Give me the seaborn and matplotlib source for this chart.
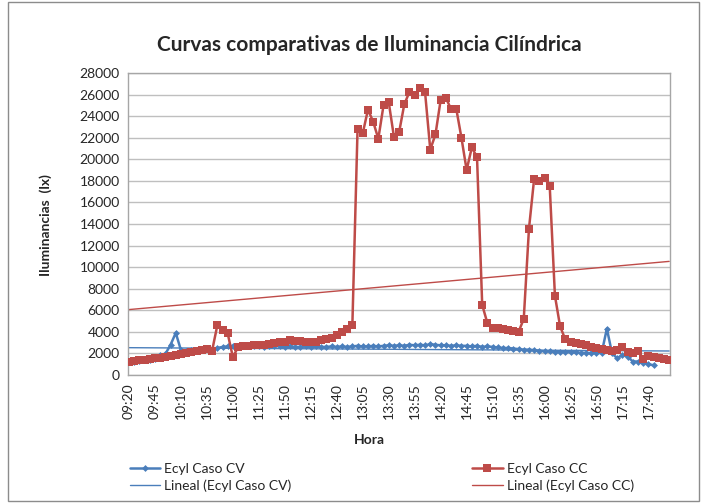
import numpy as np
import pandas as pd
import matplotlib
matplotlib.use("Agg")
import matplotlib.pyplot as plt
import matplotlib.patches as mpatches
import seaborn as sns

# valores (cada 5 minutos desde 09:20)
ecyl_cv = [1200, 1250, 1300, 1350, 1400, 1500, 1850, 1950, 2800, 3900,
           2300, 2250, 2300, 2300, 2350, 2400, 2450, 2500, 2600, 2650,
           2700, 2650, 2700, 2650, 2700, 2650, 2600, 2650, 2700, 2650,
           2600, 2650, 2600, 2600, 2650, 2600, 2650, 2600, 2600, 2650,
           2600, 2650, 2600, 2650, 2700, 2650, 2650, 2700, 2650, 2700,
           2750, 2700, 2750, 2700, 2800, 2750, 2800, 2750, 2850, 2800,
           2750, 2750, 2700, 2750, 2700, 2700, 2650, 2700, 2600, 2650,
           2600, 2550, 2500, 2500, 2450, 2400, 2350, 2350, 2300, 2250,
           2200, 2200, 2150, 2150, 2150, 2100, 2100, 2050, 2050, 2000,
           2050, 2050, 4300, 2000, 1550, 1850, 1700, 1250, 1250, 1100,
           1000, 900]

ecyl_cc = [1250, 1300, 1350, 1400, 1450, 1550, 1600, 1700, 1750, 1850,
           1900, 2000, 2100, 2200, 2350, 2450, 2250, 4600, 4150, 3850,
           1650, 2600, 2650, 2700, 2750, 2800, 2750, 2900, 2950, 3050,
           3100, 3250, 3150, 3150, 3100, 3050, 3050, 3200, 3300, 3450,
           3700, 4000, 4300, 4600, 22800, 22400, 24600, 23500, 21900, 25000,
           25300, 22100, 22500, 25100, 26250, 26000, 26600, 26200, 20900, 22300,
           25500, 25700, 24650, 24700, 22000, 19000, 21100, 20200, 6500, 4800,
           4350, 4350, 4300, 4200, 4050, 4000, 5200, 13550, 18200, 18000,
           18300, 17500, 7350, 4500, 3300, 3050, 2950, 2850, 2750, 2600,
           2500, 2400, 2300, 2250, 2300, 2550, 2150, 2050, 2250, 1450,
           1750, 1700, 1600, 1500, 1400]

tick_labels = ["09:20", "09:45", "10:10", "10:35", "11:00", "11:25", "11:50",
               "12:15", "12:40", "13:05", "13:30", "13:55", "14:20", "14:45",
               "15:10", "15:35", "16:00", "16:25", "16:50", "17:15", "17:40"]

azul = "#4A7EBB"
rojo = "#BE4B48"

sns.set_style("white")
plt.rcParams["font.family"] = ["Lato", "DejaVu Sans"]

n = len(ecyl_cc)
df_cc = pd.DataFrame({"idx": np.arange(n), "lux": ecyl_cc})
df_cv = pd.DataFrame({"idx": np.arange(len(ecyl_cv)), "lux": ecyl_cv})

fig = plt.figure(figsize=(7.07, 5.03), dpi=100)
ax = fig.add_axes([0.181, 0.2545, 0.767, 0.6004])

# lineas de tendencia (regresion lineal)
xs = np.arange(n)
p_cv = np.polyfit(df_cv["idx"], df_cv["lux"], 1)
p_cc = np.polyfit(df_cc["idx"], df_cc["lux"], 1)
ax.plot(xs, np.polyval(p_cv, xs), color=azul, lw=1.0, zorder=2,
        label="Lineal (Ecyl Caso CV)")
ax.plot(xs, np.polyval(p_cc, xs), color=rojo, lw=1.0, zorder=2,
        label="Lineal (Ecyl Caso CC)")

sns.lineplot(data=df_cv, x="idx", y="lux", ax=ax, color=azul, lw=1.8,
             marker="D", markersize=3.5, markeredgewidth=0, zorder=3,
             label="Ecyl Caso CV")
sns.lineplot(data=df_cc, x="idx", y="lux", ax=ax, color=rojo, lw=1.8,
             marker="s", markersize=5.5, markeredgewidth=0, zorder=4,
             label="Ecyl Caso CC")

ax.set_xlim(-0.2, n - 0.8)
ax.set_ylim(0, 28000)
ax.set_yticks(np.arange(0, 28001, 2000))
ax.set_xticks(np.arange(0, 5 * len(tick_labels), 5))
ax.set_xticklabels(tick_labels, rotation=90, fontsize=10)
ax.tick_params(axis="y", labelsize=10, length=0, pad=6)
ax.tick_params(axis="x", length=0, pad=6)
ax.grid(axis="y", color="#BFBFBF", lw=1.0)
ax.set_axisbelow(True)
for s in ax.spines.values():
    s.set_color("#A6A6A6")
    s.set_linewidth(1.0)

ax.set_xlabel("")
ax.set_ylabel("")
fig.text(0.523, 0.91, "Curvas comparativas de Iluminancia Cilíndrica",
         ha="center", va="center", fontsize=15, fontweight="bold")
fig.text(0.064, 0.553, "Iluminancias  (lx)", rotation=90, ha="center",
         va="center", fontsize=10, fontweight="bold")
fig.text(0.523, 0.125, "Hora", ha="center", va="center", fontsize=10,
         fontweight="bold")

ax.get_legend().remove()
h, l = ax.get_legend_handles_labels()
orden = ["Ecyl Caso CV", "Lineal (Ecyl Caso CV)", "Ecyl Caso CC", "Lineal (Ecyl Caso CC)"]
hs = [h[l.index(k)] for k in orden]
fig.legend(hs, orden, loc="upper center", bbox_to_anchor=(0.54, 0.105),
           ncol=2, frameon=False, fontsize=10, handlelength=2.2,
           columnspacing=13.0, labelspacing=0.35, handletextpad=0.3)

fig.patches.append(mpatches.Rectangle((0.012, 0.004), 0.976, 0.992,
                   transform=fig.transFigure, fill=False,
                   edgecolor="#8C8C8C", lw=1.0))

fig.savefig("out.png", dpi=100)
